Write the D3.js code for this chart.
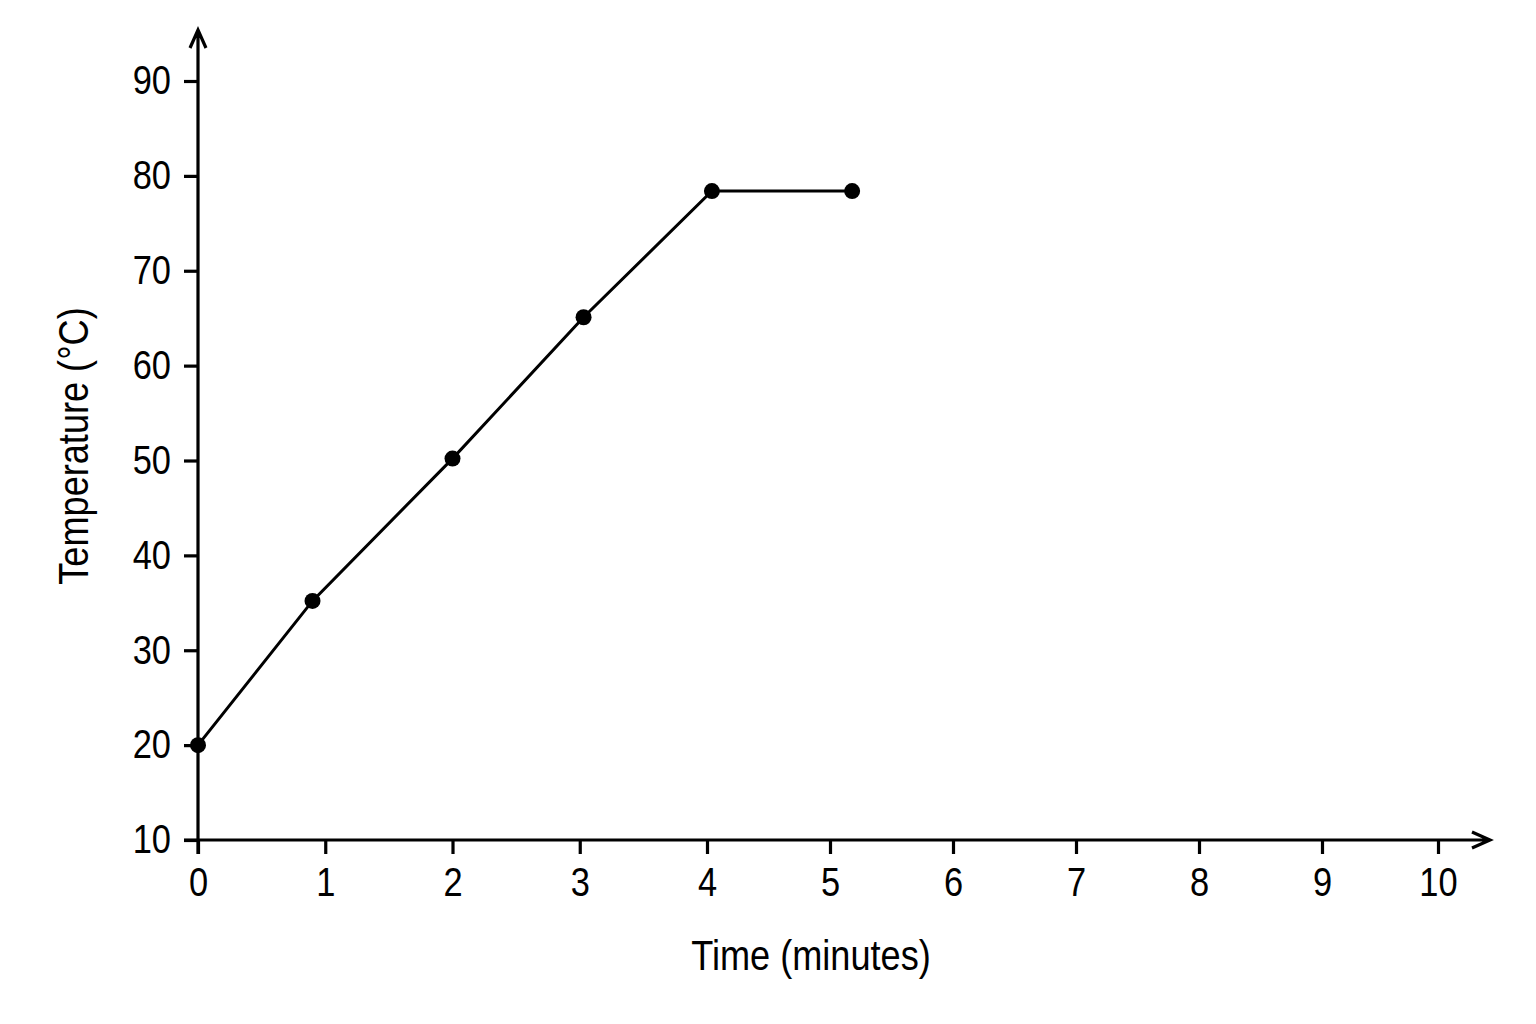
<!DOCTYPE html>
<html>
<head>
<meta charset="utf-8">
<script src="https://cdn.jsdelivr.net/npm/d3@7"></script>
<style>
  body { margin: 0; background: #fff; }
  text { font-family: "Liberation Sans", Arial, sans-serif; fill: #000; }
</style>
</head>
<body>
<svg class="svg" width="1536" height="1024"></svg>
<script>
// values
const times = [0, 0.9, 2, 3.03, 4.04, 5.18]
const temps = [20, 35.2, 50.2, 65.1, 78.4, 78.4]
const xTicks = [0, 1, 2, 3, 4, 5, 6, 7, 8, 9, 10]
const yTicks = [10, 20, 30, 40, 50, 60, 70, 80, 90]
const xLabel = 'Time (minutes)'
const yLabel = 'Temperature (°C)'

const svg = d3.select('.svg')

// the printed ticks are not quite evenly spaced, so the x scale is polylinear
const x = d3.scaleLinear().domain([0, 4, 9, 10]).range([198, 707, 1322, 1438])
const y = d3.scaleLinear().domain([10, 90]).range([840, 81])

const tick = 14

const gx = svg.append('g')
  .attr('transform', `translate(0,${y(10)})`)
  .call(d3.axisBottom(x).tickValues(xTicks).tickSize(tick).tickSizeOuter(0).tickPadding(14))
const gy = svg.append('g')
  .attr('transform', `translate(${x(0)},0)`)
  .call(d3.axisLeft(y).tickValues(yTicks).tickSize(tick).tickSizeOuter(0).tickPadding(13))

for (const g of [gx, gy]) {
  g.select('.domain').remove()
  g.selectAll('.tick line').attr('stroke', '#000').attr('stroke-width', 3.2)
  g.selectAll('.tick text').attr('font-size', 40).attr('fill', '#000')
}

// axis lines with open arrow heads
const axes = svg.append('g').attr('stroke', '#000').attr('stroke-width', 3.2).attr('fill', 'none')
axes.append('path')
  .attr('d', `M${x(0) - tick},${y(10)}H1490M1472,${y(10) - 8}L1490,${y(10)}L1472,${y(10) + 8}`)
axes.append('path')
  .attr('d', `M${x(0)},${y(10) + tick}V30M${x(0) - 8},48L${x(0)},30L${x(0) + 8},48`)

const points = times.map((t, i) => ({ t: t, v: temps[i] }))

svg.append('path')
  .datum(points)
  .attr('fill', 'none')
  .attr('stroke', '#000')
  .attr('stroke-width', 3)
  .attr('d', d3.line().x(d => x(d.t)).y(d => y(d.v)))

svg.selectAll('circle.pt')
  .data(points)
  .enter()
  .append('circle')
  .attr('class', 'pt')
  .attr('cx', d => x(d.t))
  .attr('cy', d => y(d.v))
  .attr('r', 8)
  .attr('fill', '#000')

svg.append('text')
  .attr('x', 811)
  .attr('y', 970)
  .attr('text-anchor', 'middle')
  .attr('font-size', 42)
  .text(xLabel)

svg.append('text')
  .attr('transform', 'translate(88,446) rotate(-90)')
  .attr('text-anchor', 'middle')
  .attr('font-size', 42)
  .text(yLabel)

// the lettering in the picture is a little narrower than Liberation Sans
svg.selectAll('text').each(function() {
  const w = this.getComputedTextLength()
  d3.select(this).attr('textLength', w * 0.86).attr('lengthAdjust', 'spacingAndGlyphs')
})
</script>
</body>
</html>
